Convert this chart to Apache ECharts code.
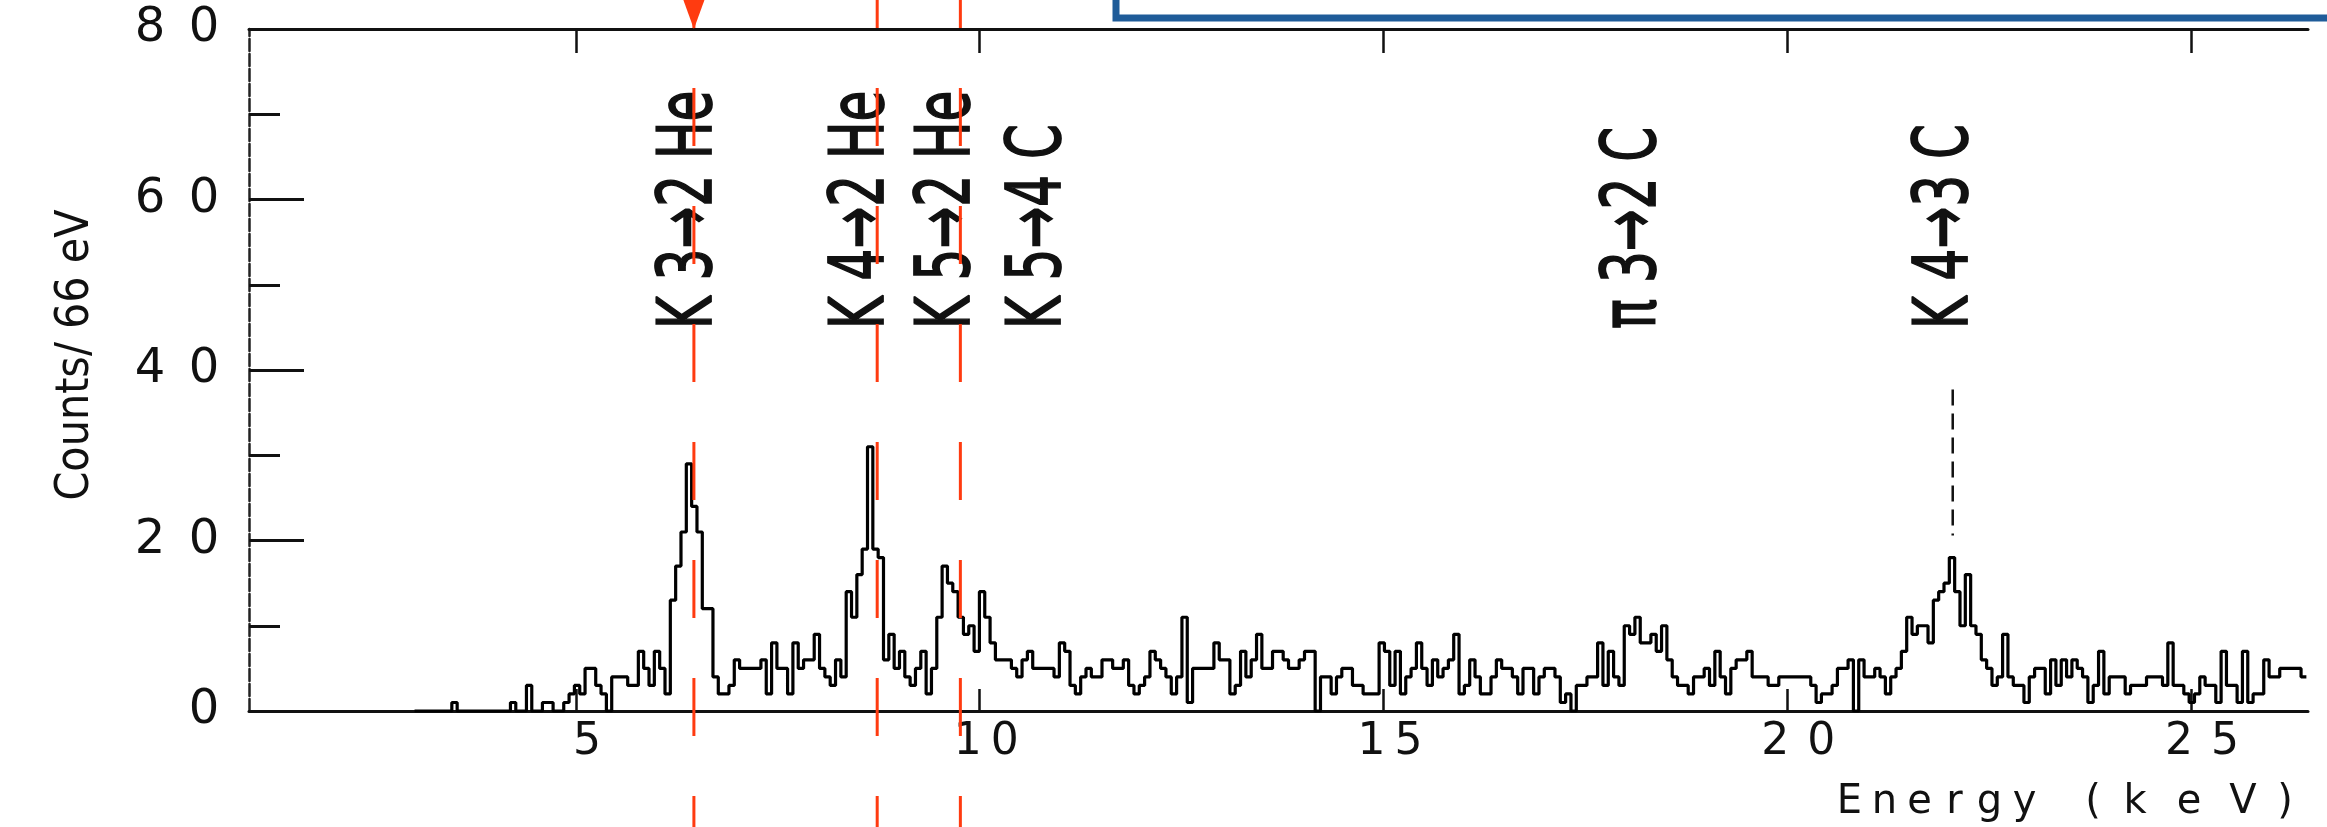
<!DOCTYPE html>
<html>
<head>
<meta charset="utf-8">
<script src="https://cdn.jsdelivr.net/npm/echarts@6/dist/echarts.min.js"></script>
<style>
html,body{margin:0;padding:0;background:#ffffff;}
#c{width:2327px;height:827px;}
</style>
</head>
<body>
<div id="c"></div>
<script>
// ---------------- data ----------------
const binStart = 3.0;      // keV, left edge of first bin
const binWidth = 0.066;    // keV (66 eV per bin)
const counts = [
  0,0,0,0,0,0,0,1,0,0,
  0,0,0,0,0,0,0,0,1,0,
  0,3,0,0,1,1,0,0,1,2,
  3,2,5,5,3,2,0,4,4,4,
  3,3,7,5,3,7,5,2,13,17,
  21,29,24,21,12,12,4,2,2,3,
  6,5,5,5,5,6,2,8,5,5,
  2,8,5,6,6,9,5,4,3,6,
  4,14,11,16,19,31,19,18,6,9,
  5,7,4,3,5,7,2,5,11,17,
  15,14,11,9,10,7,14,11,8,6,
  6,6,5,4,6,7,5,5,5,5,
  4,8,7,3,2,4,5,4,4,6,
  6,5,5,6,3,2,3,4,7,6,
  5,4,2,4,11,1,5,5,5,5,
  8,6,6,2,3,7,4,6,9,5,
  5,7,7,6,5,5,6,7,7,0,
  4,4,2,4,5,5,3,3,2,2,
  2,8,7,3,7,2,4,5,8,5,
  3,6,4,5,6,9,2,3,6,4,
  2,2,4,6,5,5,4,2,5,5,
  2,4,5,5,4,1,2,0,3,3,
  4,4,8,3,7,4,3,10,9,11,
  8,8,9,7,10,6,4,3,3,2,
  4,4,5,3,7,4,2,5,6,6,
  7,4,4,4,3,3,4,4,4,4,
  4,4,3,1,2,2,3,5,5,6,
  0,6,4,4,5,4,2,4,5,7,
  11,9,10,10,8,13,14,15,18,14,
  10,16,10,9,6,5,3,4,9,4,
  3,3,1,4,5,5,2,6,3,6,
  4,6,5,4,1,3,7,2,4,4,
  4,2,3,3,3,4,4,4,3,8,
  3,3,2,1,2,4,3,3,1,7,
  3,3,1,7,1,2,2,6,4,4,
  5,5,5,5,4
];
const xTicks = [5, 10, 15, 20, 25];
const yTicks = [0, 20, 40, 60, 80];
const heliumLineEnergies = [6.46, 8.73, 9.76];        // red dashed lines (keV)
const arrowEnergies = [6.46];                          // red arrow head
const carbonMarkerEnergies = [22.05];                  // black dashed marker (keV)
const peakLabels = ['K 3\u21922 He', 'K 4\u21922 He', 'K 5\u21922 He', 'K 5\u21924 C', '\u03c0 3\u21922 C', 'K 4\u21923 C'];
const peakLabelEnergies = [6.43, 8.56, 9.63, 10.75, 18.12, 21.99];
const xName = 'Energy (keV)';
const yName = 'Counts/ 66 eV';

// ---------------- layout / style ----------------
const X_MIN = 0.95, X_MAX = 26.45;
const LABEL_BASE = 44.8;        // counts level where rotated labels start
const MARK_TOP = 37.7, MARK_BOTTOM = 20.6;
const RED = '#ff3b10';
const INK = '#111111';
const FONT = 'DejaVu Sans';

const histData = counts.map((c, i) => [+(binStart + i * binWidth).toFixed(4), c]);
histData.push([+(binStart + counts.length * binWidth).toFixed(4), counts[counts.length - 1]]);

function spreadDigits(v) {
  return String(v).split('').map(ch => ch === '1' ? '{o|1}' : '{d|' + ch + '}').join('');
}
function spreadName(s) {
  let word = 0;
  return s.split('').map(ch => {
    if (ch === ' ') { word++; return '{s| }'; }
    if (ch === '(' || ch === ')') return '{p|' + ch + '}';
    return (word === 0 ? '{c|' : '{w|') + ch + '}';
  }).join('');
}
function tok(size, w) {
  const o = {fontSize: size, fontFamily: FONT, color: INK, align: 'center', lineHeight: Math.round(size * 1.1)};
  if (w) o.width = w;
  return o;
}

const chart = echarts.init(document.getElementById('c'), null, {renderer: 'canvas', width: 2327, height: 827});

const option = {
  backgroundColor: '#ffffff',
  animation: false,
  grid: {left: 249, right: 19, top: 29, bottom: 116, containLabel: false},
  xAxis: [
    {
      type: 'value', min: X_MIN, max: X_MAX, position: 'bottom',
      axisLine: {show: true, onZero: false, lineStyle: {color: INK, width: 3}},
      axisTick: {show: true, inside: true, length: 22, customValues: xTicks, lineStyle: {color: INK, width: 2.5}},
      axisLabel: {
        customValues: xTicks, margin: 8, padding: [0, 0, 0, 22],
        fontSize: 44, fontFamily: FONT, color: INK,
        formatter: v => spreadDigits(v),
        rich: {d: tok(44, 46), o: tok(44, 28)}
      },
      splitLine: {show: false},
      name: spreadName(xName), nameLocation: 'end', nameGap: -8,
      nameTextStyle: {
        fontSize: 40, fontFamily: FONT, color: INK,
        align: 'right', verticalAlign: 'top', padding: [70, 0, 0, 0],
        rich: {c: tok(40, 35), w: tok(40, 54), p: tok(40, 30), s: tok(40, 36)}
      }
    },
    {
      type: 'value', min: X_MIN, max: X_MAX, position: 'top',
      axisLine: {show: true, onZero: false, lineStyle: {color: INK, width: 3}},
      axisTick: {show: true, inside: true, length: 24, customValues: xTicks, lineStyle: {color: INK, width: 2.5}},
      axisLabel: {show: false},
      splitLine: {show: false}
    }
  ],
  yAxis: {
    type: 'value', min: yTicks[0], max: yTicks[yTicks.length - 1], interval: 20,
    axisLine: {show: true, onZero: false, lineStyle: {color: '#222', width: 2.5, type: [12, 3]}},
    axisTick: {show: true, inside: true, length: 55, lineStyle: {color: INK, width: 3}},
    minorTick: {show: true, splitNumber: 2, length: 31, lineStyle: {color: INK, width: 3}},
    axisLabel: {
      margin: 18, fontSize: 48, fontFamily: FONT, color: INK,
      formatter: v => spreadDigits(v),
      rich: {d: tok(48, 54), o: tok(48, 30)}
    },
    splitLine: {show: false},
    minorSplitLine: {show: false},
    name: yName, nameLocation: 'middle', nameRotate: 90, nameGap: 150,
    nameTextStyle: {fontSize: 46, fontFamily: '"Liberation Sans Narrow", "DejaVu Sans Condensed", sans-serif', color: INK, padding: [0, 0, 0, 30]}
  },
  graphic: [
    {type: 'rect', z: 100, silent: true, shape: {x: 1116, y: -20, width: 1300, height: 38},
     style: {fill: '#ffffff', stroke: '#1f5c99', lineWidth: 7}}
  ],
  series: [
    {
      name: 'spectrum', type: 'line', step: 'end', data: histData,
      showSymbol: false, symbol: 'none', silent: true, z: 3,
      lineStyle: {color: '#000000', width: 3.2}
    },
    {
      name: 'labels', type: 'custom', coordinateSystem: 'cartesian2d', silent: true, z: 4,
      data: peakLabelEnergies.map(e => [e, LABEL_BASE]),
      renderItem: (params, api) => {
        const p = api.coord([api.value(0), api.value(1)]);
        return {
          type: 'text', x: p[0], y: p[1], rotation: Math.PI / 2, scaleX: 1, scaleY: 1.5,
          style: {text: peakLabels[params.dataIndex], fontSize: 50, fontFamily: FONT,
                  fill: INK, stroke: INK, lineWidth: 1.2, align: 'left', verticalAlign: 'middle'}
        };
      }
    },
    {
      name: 'carbon marker', type: 'custom', coordinateSystem: 'cartesian2d', silent: true, z: 4,
      data: carbonMarkerEnergies.map(e => [e, 0]),
      renderItem: (params, api) => {
        const a = api.coord([api.value(0), MARK_TOP]);
        const b = api.coord([api.value(0), MARK_BOTTOM]);
        return {type: 'line', shape: {x1: a[0], y1: a[1], x2: b[0], y2: b[1]},
                style: {stroke: INK, lineWidth: 2.5, lineDash: [16, 8]}};
      }
    },
    {
      name: 'He lines', type: 'custom', coordinateSystem: 'cartesian2d', silent: true, z: 10, clip: false,
      data: heliumLineEnergies.map(e => [e, 0]),
      renderItem: (params, api) => {
        const x = api.coord([api.value(0), 0])[0];
        return {type: 'line', shape: {x1: x, y1: -30, x2: x, y2: api.getHeight() + 60},
                style: {stroke: RED, lineWidth: 3, lineDash: [58, 60]}};
      }
    },
    {
      name: 'arrow', type: 'custom', coordinateSystem: 'cartesian2d', silent: true, z: 11, clip: false,
      data: arrowEnergies.map(e => [e, yTicks[yTicks.length - 1]]),
      renderItem: (params, api) => {
        const t = api.coord([api.value(0), api.value(1)]);
        return {type: 'polygon', shape: {points: [[t[0] - 12, -4], [t[0] + 12, -4], [t[0], t[1]]]},
                style: {fill: RED}};
      }
    }
  ]
};
chart.setOption(option);
</script>
</body>
</html>
